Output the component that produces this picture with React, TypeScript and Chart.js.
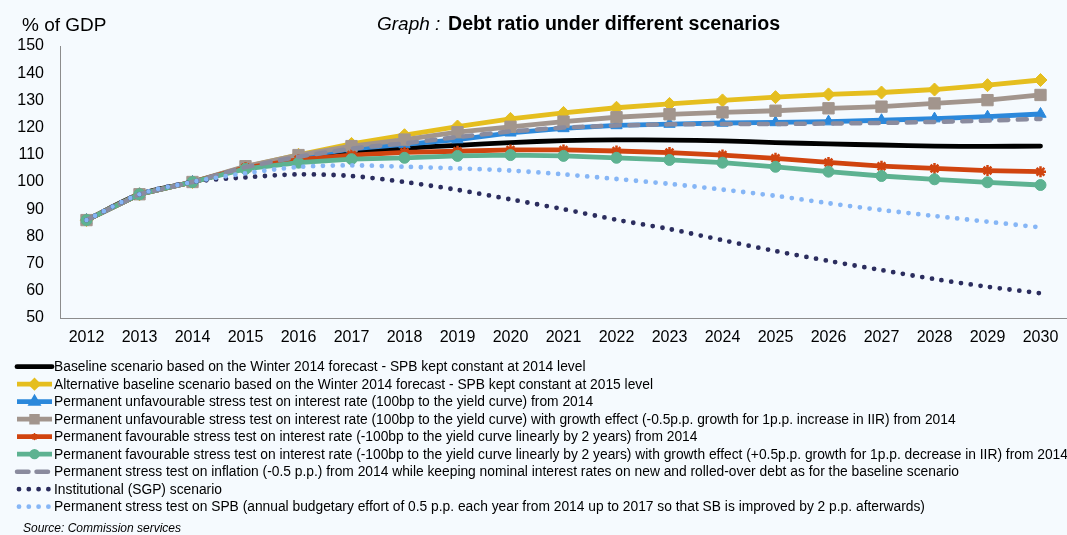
import React, { useEffect, useRef } from 'react';
import { Chart, registerables } from 'chart.js';
import { drawPoint } from 'chart.js/helpers';

Chart.register(...registerables);

const YEARS = ['2012', '2013', '2014', '2015', '2016', '2017', '2018', '2019', '2020', '2021', '2022', '2023', '2024', '2025', '2026', '2027', '2028', '2029', '2030'];

const BASELINE = [86, 95.5, 100, 105.2, 108.5, 110.9, 112.4, 113.5, 114.5, 115.2, 115.5, 115.4, 115.1, 114.5, 114.0, 113.6, 113.2, 113.1, 113.2];
const ALT_BASELINE = [86, 95.5, 100, 105.6, 110.0, 114.0, 117.2, 120.4, 123.2, 125.4, 127.3, 128.7, 130.0, 131.2, 132.2, 132.9, 134.0, 135.6, 137.5];
const UNFAV = [86, 95.5, 100, 105.4, 109.2, 112.2, 113.8, 115.6, 118.1, 119.7, 120.8, 121.3, 121.7, 121.9, 122.2, 122.7, 123.3, 124.0, 125.0];
const UNFAV_GROWTH = [86, 95.5, 100, 105.8, 109.9, 113.2, 115.6, 118.3, 120.3, 122.2, 123.8, 124.9, 125.6, 126.2, 127.1, 127.7, 128.9, 130.1, 132.0];
const FAV = [86, 95.5, 100, 105.2, 108.2, 109.9, 110.9, 111.3, 111.8, 111.8, 111.4, 110.8, 109.9, 108.7, 107.2, 105.8, 105.0, 104.2, 103.8];
const FAV_GROWTH = [86, 95.5, 100, 104.8, 107.1, 108.4, 108.9, 109.6, 109.9, 109.6, 108.9, 108.1, 107.1, 105.6, 103.8, 102.2, 101.0, 99.9, 98.9];
const INFLATION = [86, 95.5, 100, 105.5, 109.3, 112.3, 114.2, 116.5, 118.6, 120.0, 120.8, 121.2, 121.3, 121.3, 121.5, 121.7, 122.1, 122.6, 123.2];
const SGP = [86, 95.5, 100, 101.7, 102.8, 102.2, 100.0, 97.1, 93.6, 90.0, 86.1, 82.7, 78.6, 74.6, 71.0, 67.6, 64.3, 61.5, 59.1];
const SPB = [86, 95.5, 100, 103.2, 105.5, 106.1, 105.6, 105.0, 104.2, 102.8, 101.1, 99.3, 97.2, 94.9, 92.2, 89.7, 87.5, 85.4, 83.3];

const LABELS = [
  'Baseline scenario based on the Winter 2014 forecast - SPB kept constant at 2014 level',
  'Alternative baseline scenario based on the Winter 2014 forecast - SPB kept constant at 2015 level',
  'Permanent unfavourable stress test on interest rate (100bp to the yield curve) from 2014',
  'Permanent unfavourable stress test on interest rate (100bp to the yield curve) with growth effect (-0.5p.p. growth for 1p.p. increase in IIR) from 2014',
  'Permanent favourable stress test on interest rate (-100bp to the yield curve linearly by 2 years) from 2014',
  'Permanent favourable stress test on interest rate (-100bp to the yield curve linearly by 2 years) with growth effect (+0.5p.p. growth for 1p.p. decrease in IIR) from 2014',
  'Permanent stress test on inflation (-0.5 p.p.) from 2014 while keeping nominal interest rates on new and rolled-over debt as for the baseline scenario',
  'Institutional (SGP) scenario',
  'Permanent stress test on SPB (annual budgetary effort of 0.5 p.p. each year from 2014 up to 2017 so that SB is improved by 2 p.p. afterwards)',
];

const TITLE_PREFIX = 'Graph :';
const TITLE = 'Debt ratio under different scenarios';
const Y_TITLE = '% of GDP';
const SOURCE = 'Source: Commission services';
const Y_MIN = 50;
const Y_MAX = 150;
const Y_STEP = 10;

const FONT = '"Liberation Sans", Arial, sans-serif';
const BG = '#F5FAFE';

type Spec = {
  data: number[];
  color: string;
  width: number;
  dash?: number[];
  legendDash?: number[];
  cap?: CanvasLineCap;
  pointStyle?: string;
  radius?: number;
  pbw?: number;
  tension?: number;
};

export default function App() {
  const ref = useRef<HTMLCanvasElement>(null);

  useEffect(() => {
    document.body.style.margin = '0';
    document.body.style.background = BG;

    const specs: Spec[] = [
      { data: BASELINE, color: '#000000', width: 4.8, cap: 'round', tension: 0.3 },
      { data: ALT_BASELINE, color: '#E5BE1F', width: 4.8, pointStyle: 'rectRot', radius: 6.5 },
      { data: UNFAV, color: '#2B88DB', width: 4.8, pointStyle: 'triangle', radius: 6.5 },
      { data: UNFAV_GROWTH, color: '#A2958D', width: 4.8, pointStyle: 'rect', radius: 8 },
      { data: FAV, color: '#D0440F', width: 4.8, pointStyle: 'star', radius: 5.5, pbw: 2.5 },
      { data: FAV_GROWTH, color: '#5DB291', width: 4.8, pointStyle: 'circle', radius: 5.5 },
      { data: INFLATION, color: '#8A8B9E', width: 4.5, dash: [9, 9.5], legendDash: [11.5, 8], cap: 'round' },
      { data: SGP, color: '#2B2D5E', width: 4.8, dash: [0, 9.8], cap: 'round', tension: 0.3 },
      { data: SPB, color: '#86B6F6', width: 4.8, dash: [0, 9.8], cap: 'round', tension: 0.3 },
    ];

    const datasets = specs.map((s, i) => ({
      label: LABELS[i],
      data: s.data,
      borderColor: s.color,
      backgroundColor: s.color,
      borderWidth: s.width,
      borderDash: s.dash || [],
      borderCapStyle: s.cap || 'butt',
      borderJoinStyle: 'round' as const,
      pointStyle: (s.pointStyle || 'circle') as any,
      pointRadius: s.pointStyle ? (s.radius as number) : 0,
      pointHoverRadius: 0,
      pointBorderWidth: s.pbw ?? 1,
      pointBorderColor: s.color,
      pointBackgroundColor: s.color,
      tension: s.tension || 0,
      order: specs.length - i,
      fill: false,
    }));

    const overlay = {
      id: 'overlay',
      beforeDraw(chart: Chart) {
        const ctx = chart.ctx;
        ctx.save();
        ctx.fillStyle = BG;
        ctx.fillRect(0, 0, chart.width, chart.height);
        ctx.restore();
      },
      afterDraw(chart: Chart) {
        const ctx = chart.ctx;
        ctx.save();
        ctx.fillStyle = '#000';
        ctx.textBaseline = 'alphabetic';
        ctx.textAlign = 'left';
        // y-axis title
        ctx.font = `19px ${FONT}`;
        ctx.fillText(Y_TITLE, 22, 31);
        // title
        ctx.font = `italic 19px ${FONT}`;
        ctx.fillText(TITLE_PREFIX, 377, 30);
        ctx.font = `bold 19.6px ${FONT}`;
        ctx.fillText(TITLE, 448, 30);

        // legend
        specs.forEach((s, i) => {
          const y = 366.7 + 17.5 * i;
          ctx.save();
          ctx.strokeStyle = s.color;
          ctx.fillStyle = s.color;
          ctx.lineWidth = s.width;
          ctx.lineCap = s.cap || 'butt';
          ctx.setLineDash(s.legendDash || s.dash || []);
          ctx.beginPath();
          ctx.moveTo(s.dash && s.dash[0] === 0 ? 19 : 17, y);
          ctx.lineTo(52, y);
          ctx.stroke();
          ctx.setLineDash([]);
          if (s.pointStyle) {
            drawPoint(ctx, {
              pointStyle: s.pointStyle as any,
              rotation: 0,
              radius: (s.radius as number) * 0.5,
              borderWidth: s.pbw ? 2 : 1,
            } as any, 34.5, y);
          }
          ctx.restore();
          ctx.fillStyle = '#000';
          ctx.font = `13.8px ${FONT}`;
          ctx.textBaseline = 'middle';
          ctx.fillText(LABELS[i], 54, y + 0.5);
        });

        ctx.font = `italic 12px ${FONT}`;
        ctx.textBaseline = 'alphabetic';
        ctx.fillText(SOURCE, 23, 532);
        ctx.restore();
      },
    };

    const chart = new Chart(ref.current as HTMLCanvasElement, {
      type: 'line',
      data: { labels: YEARS, datasets: datasets as any },
      options: {
        responsive: false,
        animation: false,
        devicePixelRatio: 1,
        layout: { autoPadding: false, padding: { top: 46, left: 0, right: 0, bottom: 177 } },
        plugins: {
          legend: { display: false },
          title: { display: false },
          tooltip: { enabled: false },
        },
        events: [],
        scales: {
          x: {
            offset: true,
            grid: { display: false, drawTicks: false },
            border: { display: true, color: '#8C8C8C', width: 1 },
            ticks: {
              font: { family: FONT, size: 16 },
              color: '#000',
              padding: 10,
              maxRotation: 0,
              autoSkip: false,
            },
            afterFit: (s: any) => { s.height = 40; s.paddingLeft = 0; s.paddingRight = 0; },
          },
          y: {
            min: Y_MIN,
            max: Y_MAX,
            grid: { display: false, drawTicks: false },
            border: { display: true, color: '#8C8C8C', width: 1 },
            ticks: {
              stepSize: Y_STEP,
              font: { family: FONT, size: 16 },
              color: '#000',
              padding: 16,
            },
            afterFit: (s: any) => { s.width = 60; s.paddingTop = 0; s.paddingBottom = 0; },
          },
        },
      },
      plugins: [overlay],
    });

    return () => chart.destroy();
  }, []);

  return (
    <div style={{ position: 'fixed', left: 0, top: 0, width: 1067, height: 535, background: BG }}>
      <canvas ref={ref} width={1067} height={535} style={{ display: 'block' }} />
    </div>
  );
}
